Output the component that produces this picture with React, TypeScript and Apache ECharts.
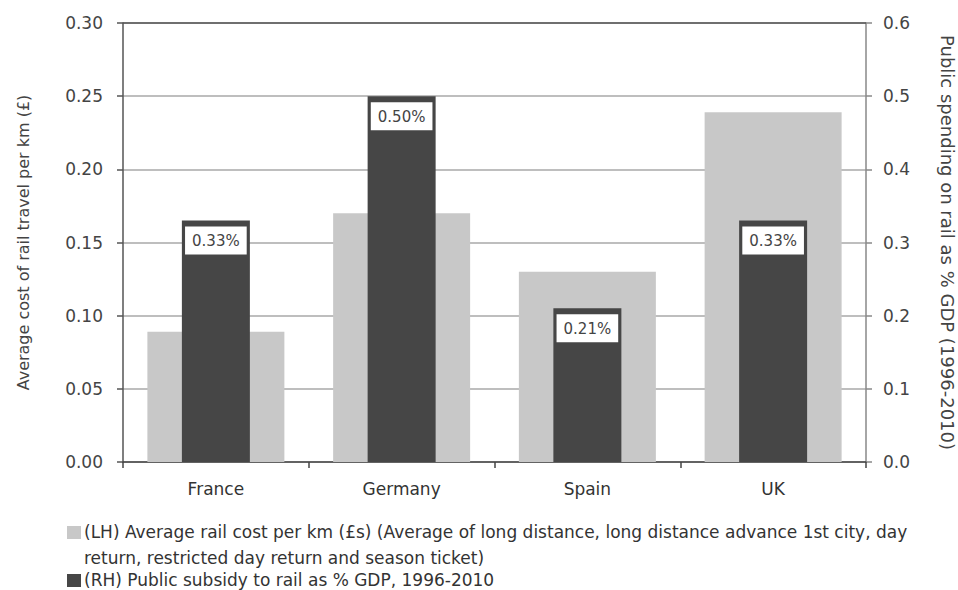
import React, { useEffect, useRef } from "react";
import * as echarts from "echarts";

const categories = ["France", "Germany", "Spain", "UK"];
const avgCostPerKm = [0.089, 0.17, 0.13, 0.239];
const subsidyPctGdp = [0.33, 0.5, 0.21, 0.33];
const leftTicks = { min: 0, max: 0.3, interval: 0.05 };
const rightTicks = { min: 0, max: 0.6, interval: 0.1 };
const leftName = "Average cost of rail travel per km (£)";
const rightName = "Public spending on rail as % GDP (1996-2010)";
const legendLH1 =
  "(LH) Average rail cost per km (£s) (Average of long distance, long distance advance 1st city, day";
const legendLH2 = "return, restricted day return and season ticket)";
const legendRH = "(RH) Public subsidy to rail as % GDP, 1996-2010";

const FONT = "'DejaVu Sans', Verdana, sans-serif";
const LIGHT = "#c8c8c8";
const DARK = "#464646";

export default function App() {
  const ref = useRef<HTMLDivElement>(null);
  useEffect(() => {
    document.body.style.margin = "0";
    document.documentElement.style.overflow = "hidden";
    document.body.style.overflow = "hidden";
    if (!ref.current) return;
    const chart = echarts.init(ref.current, null, { renderer: "svg" });
    chart.setOption({
      animation: false,
      backgroundColor: "#fff",
      textStyle: { fontFamily: FONT },
      grid: {
        left: 123,
        right: 92,
        top: 23,
        bottom: 128,
        containLabel: false,
        outerBoundsMode: "none",
      },
      legend: { show: false },
      xAxis: [
        {
          type: "category",
          data: categories,
          axisLine: { lineStyle: { color: "#444", width: 1.5 } },
          axisTick: { show: true, length: 6, lineStyle: { color: "#444", width: 1.5 } },
          axisLabel: { color: "#333", fontSize: 17, fontFamily: FONT, margin: 18 },
        },
        {
          type: "category",
          data: categories,
          show: false,
          gridIndex: 0,
        },
      ],
      yAxis: [
        {
          type: "value",
          min: leftTicks.min,
          max: leftTicks.max,
          interval: leftTicks.interval,
          name: leftName,
          nameLocation: "middle",
          nameGap: 92,
          nameRotate: 90,
          nameTextStyle: { color: "#444", fontSize: 16, fontFamily: FONT },
          axisLine: { show: true, lineStyle: { color: "#555", width: 1.5 } },
          axisTick: { show: true, length: 6, lineStyle: { color: "#555", width: 1.5 } },
          axisLabel: {
            color: "#444",
            fontSize: 17,
            fontFamily: FONT,
            margin: 20,
            formatter: (v: number) => v.toFixed(2),
          },
          splitLine: { show: true, lineStyle: { color: "#a8a8a8", width: 1.5 } },
        },
        {
          type: "value",
          min: rightTicks.min,
          max: rightTicks.max,
          interval: rightTicks.interval,
          name: rightName,
          nameLocation: "middle",
          nameGap: 72,
          nameRotate: -90,
          nameTextStyle: { color: "#444", fontSize: 18, fontFamily: FONT },
          axisLine: { show: true, lineStyle: { color: "#888", width: 1.5 } },
          axisTick: { show: true, length: 6, lineStyle: { color: "#888", width: 1.5 } },
          axisLabel: {
            color: "#444",
            fontSize: 17,
            fontFamily: FONT,
            margin: 17,
            formatter: (v: number) => v.toFixed(1),
          },
          splitLine: { show: false },
        },
      ],
      series: [
        {
          name: legendLH1 + " " + legendLH2,
          type: "bar",
          xAxisIndex: 0,
          yAxisIndex: 0,
          data: avgCostPerKm,
          barWidth: 137,
          itemStyle: { color: LIGHT },
          z: 2,
        },
        {
          name: legendRH,
          type: "bar",
          xAxisIndex: 1,
          yAxisIndex: 1,
          data: subsidyPctGdp,
          barWidth: 68,
          itemStyle: { color: DARK },
          z: 3,
          label: {
            show: true,
            position: "insideTop",
            distance: 6,
            formatter: (p: any) => p.value.toFixed(2) + "%",
            backgroundColor: "#fff",
            padding: [7, 7, 6, 7],
            color: "#444",
            fontSize: 15,
            fontFamily: FONT,
          },
        },
      ],
      graphic: [
        {
          type: "line",
          shape: { x1: 123, y1: 23, x2: 866, y2: 23 },
          style: { stroke: "#555", lineWidth: 1.5 },
          z: 1,
        },
        {
          type: "rect",
          shape: { x: 67, y: 526, width: 14, height: 13 },
          style: { fill: LIGHT },
        },
        {
          type: "text",
          x: 84,
          y: 532,
          style: {
            text: legendLH1,
            fill: "#333",
            font: `17px ${FONT}`,
            verticalAlign: "middle",
          },
        },
        {
          type: "text",
          x: 84,
          y: 558,
          style: {
            text: legendLH2,
            fill: "#333",
            font: `17px ${FONT}`,
            verticalAlign: "middle",
          },
        },
        {
          type: "rect",
          shape: { x: 67, y: 574, width: 14, height: 13 },
          style: { fill: DARK },
        },
        {
          type: "text",
          x: 84,
          y: 580,
          style: {
            text: legendRH,
            fill: "#333",
            font: `17px ${FONT}`,
            verticalAlign: "middle",
          },
        },
      ],
    });
    return () => chart.dispose();
  }, []);
  return <div ref={ref} style={{ width: 958, height: 590 }} />;
}
